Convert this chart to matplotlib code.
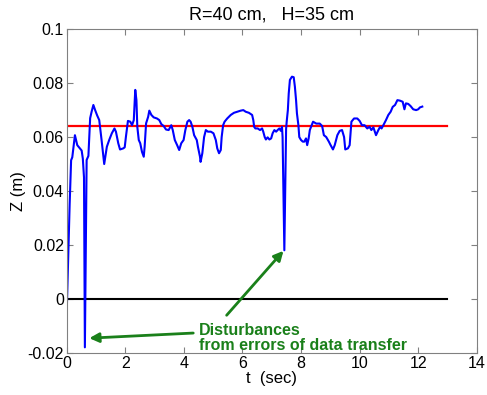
import matplotlib
matplotlib.use("Agg")
import matplotlib.pyplot as plt

plt.rcParams['font.family'] = ['Liberation Sans', 'DejaVu Sans']

t = [0.00, 0.05, 0.10, 0.15, 0.19, 0.28, 0.36, 0.45, 0.51, 0.55, 0.59, 0.62, 0.68, 0.74,
     0.80, 0.85, 0.91, 0.97, 1.04, 1.11, 1.19, 1.28, 1.37, 1.45, 1.54, 1.63, 1.68, 1.76,
     1.82, 1.93, 1.98, 2.02, 2.09, 2.17, 2.23, 2.29, 2.34, 2.38, 2.41, 2.46, 2.51, 2.57,
     2.63, 2.66, 2.71, 2.78, 2.82, 2.89, 2.97, 3.08, 3.16, 3.23, 3.31, 3.39, 3.48, 3.57,
     3.62, 3.69, 3.77, 3.84, 3.91, 3.99, 4.05, 4.12, 4.18, 4.23, 4.29, 4.35, 4.44, 4.48,
     4.55, 4.57, 4.63, 4.69, 4.75, 4.82, 4.92, 5.01, 5.09, 5.14, 5.20, 5.26, 5.29, 5.34,
     5.39, 5.48, 5.60, 5.71, 5.82, 5.94, 6.03, 6.11, 6.22, 6.33, 6.37, 6.40, 6.44, 6.52,
     6.60, 6.67, 6.71, 6.76, 6.80, 6.86, 6.92, 6.98, 7.03, 7.09, 7.15, 7.20, 7.26, 7.31,
     7.35, 7.37, 7.43, 7.49, 7.51, 7.55, 7.58, 7.62, 7.69, 7.75, 7.79, 7.83, 7.86, 7.91,
     7.94, 8.00, 8.06, 8.11, 8.17, 8.21, 8.26, 8.30, 8.41, 8.52, 8.64, 8.72, 8.78, 8.86,
     8.95, 9.01, 9.09, 9.15, 9.24, 9.32, 9.40, 9.47, 9.51, 9.60, 9.66, 9.72, 9.81, 9.92,
     10.00, 10.08, 10.17, 10.26, 10.34, 10.40, 10.47, 10.56, 10.64, 10.70, 10.75, 10.81,
     10.90, 10.98, 11.06, 11.13, 11.21, 11.29, 11.38, 11.47, 11.53, 11.58, 11.66, 11.74,
     11.83, 11.93, 12.00, 12.06, 12.14]
z = [-0.005, 0.015, 0.035, 0.0514, 0.0525, 0.0607, 0.057, 0.0558, 0.055, 0.052, 0.045, -0.018, 0.0515, 0.053,
     0.067, 0.0694, 0.0719, 0.070, 0.068, 0.0663, 0.0589, 0.050, 0.0564, 0.0589, 0.0614, 0.0632, 0.062, 0.0577,
     0.0554, 0.0558, 0.0562, 0.060, 0.066, 0.0657, 0.0644, 0.0663, 0.0775, 0.0737, 0.0638, 0.0589, 0.0577, 0.0545,
     0.0527, 0.0564, 0.0651, 0.0675, 0.0698, 0.0682, 0.0673, 0.0669, 0.0663, 0.0648, 0.0641, 0.0628, 0.0626, 0.0644,
     0.0626, 0.0589, 0.057, 0.0552, 0.0577, 0.0589, 0.0626, 0.0657, 0.0663, 0.0657, 0.0638, 0.0607, 0.0589, 0.0564,
     0.0527, 0.0508, 0.054, 0.060, 0.0626, 0.062, 0.062, 0.0614, 0.0589, 0.0558, 0.054, 0.0552, 0.060, 0.0644,
     0.0657, 0.0669, 0.0682, 0.069, 0.0694, 0.0698, 0.070, 0.0694, 0.069, 0.0682, 0.0663, 0.0638, 0.0632, 0.0632,
     0.0626, 0.0632, 0.062, 0.060, 0.0591, 0.0599, 0.0591, 0.0595, 0.0614, 0.0626, 0.062, 0.0626, 0.0632, 0.0623,
     0.0638, 0.060, 0.018, 0.063, 0.0657, 0.070, 0.0762, 0.0812, 0.0824, 0.0822, 0.0787, 0.0737, 0.0688, 0.0644,
     0.060, 0.0589, 0.0583, 0.0583, 0.0595, 0.057, 0.0595, 0.0626, 0.0657, 0.065, 0.065, 0.0641, 0.0607, 0.060,
     0.0583, 0.057, 0.0554, 0.057, 0.0607, 0.0623, 0.0626, 0.060, 0.0554, 0.0558, 0.057, 0.0657, 0.0669, 0.0669,
     0.066, 0.0644, 0.0644, 0.0632, 0.0638, 0.0626, 0.0636, 0.0607, 0.0626, 0.0638, 0.0632, 0.0644,
     0.0663, 0.0682, 0.0694, 0.0712, 0.0719, 0.0737, 0.0735, 0.0731, 0.0703, 0.0725, 0.0723, 0.0715,
     0.0703, 0.070, 0.0703, 0.0710, 0.0713]

ref_level = 0.064
line_t = [0, 13]

x_ticks = [0, 2, 4, 6, 8, 10, 12, 14]
y_ticks = [-0.02, 0, 0.02, 0.04, 0.06, 0.08, 0.1]
y_ticklabels = ['-0.02', '0', '0.02', '0.04', '0.06', '0.08', '0.1']

title = 'R=40 cm,   H=35 cm'
note = 'Disturbances\nfrom errors of data transfer'
arrow1_tip = (0.77, -0.0146)
arrow1_tail = (4.32, -0.0127)
arrow2_tip = (7.40, 0.0178)
arrow2_tail = (5.46, -0.0061)

fig = plt.figure(figsize=(4.87, 3.95), dpi=100)
ax = fig.add_axes([0.137, 0.107, 0.842, 0.819])

ax.plot(line_t, [0, 0], color='black', lw=1.5)
ax.plot(line_t, [ref_level, ref_level], color='#ff0000', lw=1.6)
ax.plot(t, z, color='#0000ff', lw=1.5)

ax.set_xlim(0, 14)
ax.set_ylim(-0.02, 0.1)
ax.set_xticks(x_ticks)
ax.set_xticklabels([str(v) for v in x_ticks])
ax.set_yticks(y_ticks)
ax.set_yticklabels(y_ticklabels)
ax.tick_params(direction='in', top=True, right=True, length=4, width=0.8,
               colors='#808080', labelcolor='black', labelsize=11.5, pad=2)
for sp in ax.spines.values():
    sp.set_color('#808080')
    sp.set_linewidth(0.8)

ax.set_title(title, fontsize=13, pad=7)
ax.set_xlabel('t  (sec)', fontsize=12, labelpad=0)
ax.set_ylabel('Z (m)', fontsize=12, labelpad=1)

green = '#1a801a'
ax.text(4.5, -0.009, note, color=green, fontsize=11.5, fontweight='bold',
        ha='left', va='top', linespacing=1.0)
ax.annotate('', xy=arrow1_tip, xytext=arrow1_tail,
            arrowprops=dict(arrowstyle='-|>', color=green, lw=2, mutation_scale=14,
                            shrinkA=0, shrinkB=0))
ax.annotate('', xy=arrow2_tip, xytext=arrow2_tail,
            arrowprops=dict(arrowstyle='-|>', color=green, lw=2, mutation_scale=14,
                            shrinkA=0, shrinkB=0))

fig.savefig('out.png', dpi=100)
